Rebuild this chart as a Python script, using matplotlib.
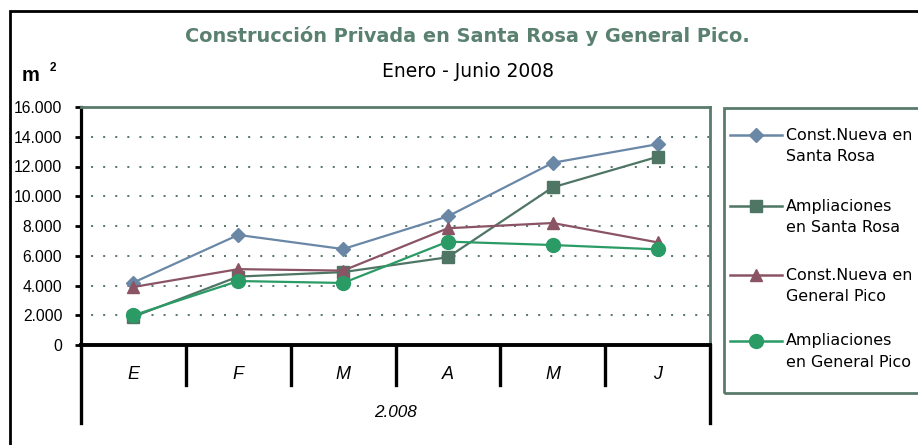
import matplotlib
matplotlib.use("Agg")
import matplotlib.pyplot as plt
from matplotlib.lines import Line2D
from matplotlib.patches import Rectangle
import matplotlib.transforms as mtransforms

# ---- data ----
months = ["E", "F", "M", "A", "M", "J"]
year_label = "2.008"
nueva_sr = [4200, 7400, 6450, 8650, 12250, 13500]
ampl_sr = [1900, 4600, 4900, 5900, 10600, 12650]
nueva_gp = [3900, 5100, 5000, 7850, 8200, 6900]
ampl_gp = [2000, 4300, 4170, 6950, 6720, 6430]
series_labels = ["Const.Nueva en\nSanta Rosa", "Ampliaciones\nen Santa Rosa",
                 "Const.Nueva en\nGeneral Pico", "Ampliaciones\nen General Pico"]
yticks = [0, 2000, 4000, 6000, 8000, 10000, 12000, 14000, 16000]
title = "Construcción Privada en Santa Rosa y General Pico."
subtitle = "Enero - Junio 2008"

# ---- styles ----
colors = ["#6a88a6", "#4f7565", "#8b5465", "#2b9b66"]
markers = ["D", "s", "^", "o"]
msizes = [7, 8, 8.5, 10]
frame_col = "#5a7a6c"
FONT = "Liberation Sans"

W, H = 918, 445
fig = plt.figure(figsize=(W / 100, H / 100), dpi=100)

def fx(px):
    return px / W

def fy(py):
    return 1 - py / H

# outer border
fig.add_artist(Rectangle((fx(10), -0.1), 1.2, fy(11) + 0.1, transform=fig.transFigure,
                         fill=False, edgecolor="black", linewidth=2))

L, R, T, B = 81, 710, 107, 345
ax = fig.add_axes([fx(L), fy(B), fx(R) - fx(L), fy(T) - fy(B)])

all_series = [nueva_sr, ampl_sr, nueva_gp, ampl_gp]
x = list(range(len(months)))
for vals, c, m, ms in zip(all_series, colors, markers, msizes):
    ax.plot(x, vals, color=c, linewidth=1.6, marker=m, markersize=ms,
            markerfacecolor=c, markeredgecolor=c, zorder=3, clip_on=False)

ax.set_xlim(-0.5, len(months) - 0.5)
ax.set_ylim(0, 16000)
ax.set_yticks(yticks)
ax.set_yticklabels([f"{v:,}".replace(",", ".") for v in yticks],
                   fontfamily=FONT, fontsize=11.3)
ax.tick_params(axis="y", direction="out", length=4.5, width=2, pad=9, color="black")
ax.set_xticks([])
for yv in yticks[1:-1]:
    ax.axhline(yv, color=frame_col, linewidth=1.45, linestyle=(1, (1, 5)), zorder=1)

ax.spines["left"].set_linewidth(2.3)
ax.spines["left"].set_color("black")
ax.spines["bottom"].set_linewidth(2.8)
ax.spines["bottom"].set_color("black")
ax.spines["top"].set_linewidth(2)
ax.spines["top"].set_color(frame_col)
ax.spines["right"].set_linewidth(2)
ax.spines["right"].set_color(frame_col)

# category separators and labels
trans = mtransforms.blended_transform_factory(ax.transData, fig.transFigure)
n = len(months)
for i in range(n + 1):
    b = i - 0.5
    lo = fy(423) if i in (0, n) else fy(385)
    ax.add_line(Line2D([b, b], [fy(B), lo], transform=trans, color="black",
                       linewidth=2.4, clip_on=False))
for i, mth in enumerate(months):
    fig.text(i, fy(379), mth, transform=trans, ha="center", va="baseline",
             fontsize=13, fontstyle="italic", fontfamily=FONT)
fig.text((n - 1) / 2, fy(417), year_label, transform=trans, ha="center", va="baseline",
         fontsize=12.3, fontstyle="italic", fontfamily=FONT)

# titles
fig.text(fx(467), fy(42), title, ha="center", va="baseline", fontsize=13.9,
         fontweight="bold", color="#5a8070", fontfamily="DejaVu Sans")
fig.text(fx(468), fy(77.3), subtitle, ha="center", va="baseline", fontsize=13.5,
         fontfamily="DejaVu Sans")
fig.text(fx(22), fy(81), "m", ha="left", va="baseline", fontsize=14.5,
         fontweight="bold", fontfamily=FONT)
fig.text(fx(49.5), fy(71), "2", ha="left", va="baseline", fontsize=8.5,
         fontweight="bold", fontfamily=FONT)

# legend
fig.add_artist(Rectangle((fx(724), fy(393)), 1.2, fy(108) - fy(393),
                         transform=fig.transFigure, fill=False,
                         edgecolor=frame_col, linewidth=2))
entry_y = [135, 206, 275, 341]
for lab, c, m, ms, ey in zip(series_labels, colors, markers, msizes, entry_y):
    fig.add_artist(Line2D([fx(730), fx(782)], [fy(ey), fy(ey)], transform=fig.transFigure,
                          color=c, linewidth=1.8))
    fig.add_artist(Line2D([fx(756)], [fy(ey)], transform=fig.transFigure, color=c,
                          marker=m, markersize=ms, markerfacecolor=c, markeredgecolor=c))
    for k, part in enumerate(lab.split("\n")):
        fig.text(fx(786), fy(ey + 4.5 + 21.5 * k), part, ha="left", va="baseline",
                 fontsize=11.4, fontfamily="DejaVu Sans")

fig.savefig("out.png", dpi=100)
